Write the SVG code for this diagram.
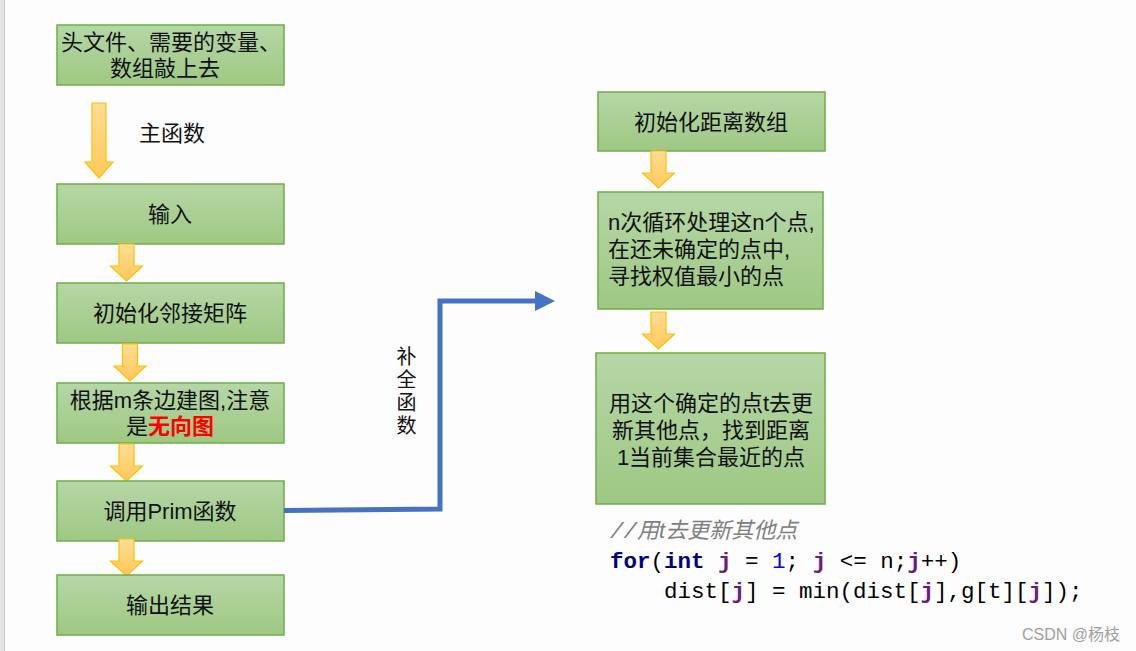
<svg xmlns="http://www.w3.org/2000/svg" width="1136" height="651" viewBox="0 0 1136 651">
<defs>
<linearGradient id="gBox" x1="0" y1="0" x2="0" y2="1">
<stop offset="0" stop-color="#b6d7a6"/>
<stop offset="1" stop-color="#9ec883"/>
</linearGradient>
<linearGradient id="gArr" x1="0" y1="0" x2="0" y2="1">
<stop offset="0" stop-color="#ffdc95"/>
<stop offset="1" stop-color="#ffc95a"/>
</linearGradient>
<marker id="blueHead" markerWidth="4" markerHeight="4" refX="0" refY="2" orient="auto" markerUnits="strokeWidth" viewBox="0 0 4 4">
<path d="M0,0 L4,2 L0,4 Z" fill="#4472c4"/>
</marker>
<path id="arrShort" d="M-7.5,0 H7.5 V22 H16 L0,37 L-16,22 H-7.5 Z"/>
</defs>
<style>
.box{fill:url(#gBox);stroke:#70ad47;stroke-width:1.5}
.arr{fill:url(#gArr);stroke:#ffc000;stroke-width:1.2}
.t{font-family:"Liberation Sans","Noto Sans CJK SC",sans-serif;font-size:22px;fill:#111}
.c{text-anchor:middle}
.code{font-family:"Liberation Mono","DejaVu Sans Mono",monospace;font-size:22.5px;fill:#000}
.kw{fill:#000080;font-weight:bold}
.v{fill:#6a1b7e;font-weight:bold}
.n{fill:#0000ff}
</style>
<rect x="0" y="0" width="1136" height="651" fill="#fdfdfd"/>
<rect x="0" y="0" width="4" height="651" fill="#e3e3e3"/>
<line x1="4.5" y1="0" x2="4.5" y2="651" stroke="#c8c8c8" stroke-width="1"/>

<g id="n1"><rect class="box" x="57" y="25" width="227" height="60"/>
<text class="t c"><tspan x="171" y="50">头文件、需要的变量、</tspan><tspan x="165" y="76">数组敲上去</tspan></text></g>

<g id="a1"><path class="arr" d="M92,103 H106 V162 H113 L99,178 L85,162 H92 Z"/></g>
<text class="t" x="139" y="141">主函数</text>

<g id="n2"><rect class="box" x="57" y="184" width="227" height="60"/>
<text class="t c" x="170" y="222">输入</text></g>
<use class="arr" href="#arrShort" x="126.5" y="244"/>

<g id="n3"><rect class="box" x="57" y="283" width="227" height="60"/>
<text class="t c" x="170" y="321">初始化邻接矩阵</text></g>
<use class="arr" href="#arrShort" x="130" y="344"/>

<g id="n4"><rect class="box" x="57" y="383" width="227" height="60"/>
<text class="t c"><tspan x="170" y="408">根据m条边建图,注意</tspan><tspan x="170" y="434">是<tspan fill="#ff0000" font-weight="bold">无向图</tspan></tspan></text></g>
<use class="arr" href="#arrShort" x="126.5" y="444"/>

<g id="n5"><rect class="box" x="57" y="481" width="227" height="60"/>
<text class="t c" x="170" y="519">调用Prim函数</text></g>
<use class="arr" href="#arrShort" x="126.5" y="539"/>

<g id="n6"><rect class="box" x="57" y="575" width="227" height="60"/>
<text class="t c" x="170" y="613">输出结果</text></g>

<g id="nA"><rect class="box" x="598" y="92" width="227" height="59"/>
<text class="t c" x="711" y="130">初始化距离数组</text></g>
<use class="arr" href="#arrShort" x="658.5" y="151"/>

<g id="nB"><rect class="box" x="598" y="192" width="225" height="117"/>
<text class="t"><tspan x="608" y="230">n次循环处理这n个点,</tspan><tspan x="608" y="257">在还未确定的点中,</tspan><tspan x="608" y="284">寻找权值最小的点</tspan></text></g>
<use class="arr" href="#arrShort" x="658.5" y="312"/>

<g id="nC"><rect class="box" x="596" y="353" width="229" height="151"/>
<text class="t c"><tspan x="711" y="411">用这个确定的点t去更</tspan><tspan x="711" y="438">新其他点，找到距离</tspan><tspan x="711" y="465">1当前集合最近的点</tspan></text></g>

<g id="connectors">
<path d="M284,510.5 L440,509 L440,301 L535,301" fill="none" stroke="#4472c4" stroke-width="5" marker-end="url(#blueHead)"/>
</g>
<g id="label">
<text class="t" x="405" y="346" font-size="20" style="font-size:20px;writing-mode:vertical-rl;letter-spacing:3px">补全函数</text>
</g>

<g id="code">
<text class="code" xml:space="preserve"><tspan x="610" y="538" font-style="italic" style="fill:#808080">//<tspan font-family="Liberation Sans, Noto Sans CJK SC, sans-serif" font-size="22">用t去更新其他点</tspan></tspan><tspan x="610" y="568"><tspan class="kw">for</tspan>(<tspan class="kw">int</tspan> <tspan class="v">j</tspan> = <tspan class="n">1</tspan>; <tspan class="v">j</tspan> &lt;= n;<tspan class="v">j</tspan>++)</tspan><tspan x="664" y="598">dist[<tspan class="v">j</tspan>] = min(dist[<tspan class="v">j</tspan>],g[t][<tspan class="v">j</tspan>]);</tspan></text>
</g>
<text x="1120" y="640" text-anchor="end" font-family="Liberation Sans,'Noto Sans CJK SC',sans-serif" font-size="16" fill="#a0a0a0">CSDN @杨枝</text>
</svg>
